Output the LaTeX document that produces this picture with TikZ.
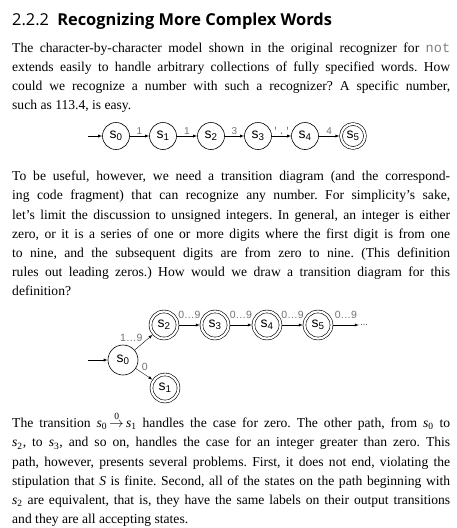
\documentclass[tikz,border=0pt]{standalone}
\usepackage{amsmath}
\usepackage{fontspec}
\setmainfont{Liberation Serif}
\setsansfont{Liberation Sans}
\setmonofont{Liberation Mono}
\newfontfamily\headfont{Open Sans}
\usetikzlibrary{positioning}

\newcommand\zs[1]{s\textsubscript{#1}}
\newcommand\ts[1]{\textit{s}\textsubscript{#1}}
\hyphenpenalty=10000
\frenchspacing

\begin{document}
\begin{tikzpicture}[>=latex,x=1pt,y=-1pt,
  zustand/.style={circle,draw,line width=0.6pt,minimum size=27pt,inner sep=0pt,
    font=\fontsize{14}{14}\sffamily},
  gross/.style={minimum size=30pt},
  akz/.style={double,double distance=2.2pt,outer sep=1.6pt},
  lbl/.style={above,inner sep=1.2pt,text=black!55,font=\fontsize{10}{10}\sffamily},
  hoch/.style={above=5pt,font=\fontsize{10.5}{10.5}\sffamily},
  absatz/.style={anchor=north west,inner sep=0pt,text width=438pt,align=justify,
    font=\fontsize{13.6}{19.2}\selectfont}]
  \useasboundingbox[fill=white] (0,0) rectangle (457,528);

  % Text
  \node[anchor=base west,inner sep=0pt,font=\fontsize{16.4}{18}\headfont] (titel) at (12,25)
    {2.2.2\enspace\textbf{Recognizing More Complex Words}};
  \node[absatz] (p1) at (12,38.56) {\strut The character-by-character model shown in the
    original recognizer for {\ttfamily\color{black!50}not}\linebreak
    extends easily to handle arbitrary collections of fully specified words. How\linebreak
    could we recognize a number with such a recognizer? A specific number,\linebreak
    such as 113.4, is easy.};
  \node[absatz] (p2) at (12,167.06) {\strut To be useful, however, we need a transition
    diagram (and the correspond-\linebreak
    ing code fragment) that can recognize any number. For simplicity’s sake,\linebreak
    let’s limit the discussion to unsigned integers. In general, an integer is either\linebreak
    zero, or it is a series of one or more digits where the first digit is from one\linebreak
    to nine, and the subsequent digits are from zero to nine. (This definition\linebreak
    rules out leading zeros.) How would we draw a transition diagram for this\linebreak
    definition?};
  \node[absatz] (p3) at (12,411.56) {\strut The transition
    \ts0\,$\overset{\textrm{0}}{\rightarrow}$\,\ts1 handles the case for zero. The other
    path, from \ts0 to\linebreak
    \ts2, to \ts3, and so on, handles the case for an integer greater than zero. This\linebreak
    path, however, presents several problems. First, it does not end, violating the\linebreak
    stipulation that \textit{S} is finite. Second, all of the states on the path beginning with\linebreak
    \ts2 are equivalent, that is, they have the same labels on their output transitions\linebreak
    and they are all accepting states.};

  % Knoten (113.4)
  \coordinate (a) at (88,136);
  \node[zustand] (a0) at (116,136) {\zs0};
  \node[zustand] (a1) at (163,136) {\zs1};
  \node[zustand] (a2) at (211,136) {\zs2};
  \node[zustand] (a3) at (258,136) {\zs3};
  \node[zustand] (a4) at (305,136) {\zs4};
  \node[zustand,akz,minimum size=24pt] (a5) at (353,136) {\zs5};

  % Pfeile (113.4)
  \draw[->] (a) -- (a0);
  \draw[->] (a0) -- (a1) node[midway,lbl] {1};
  \draw[->] (a1) -- (a2) node[midway,lbl] {1};
  \draw[->] (a2) -- (a3) node[midway,lbl] {3};
  \draw[->] (a3) -- (a4) node[midway,lbl] {\ttfamily'.'};
  \draw[->] (a4) -- (a5) node[midway,lbl] {4};

  % Knoten (Zahlen)
  \coordinate (b) at (88,360);
  \node[zustand,gross] (b0) at (123,360) {\zs0};
  \node[zustand,akz] (b1) at (165,388) {\zs1};
  \node[zustand,akz] (b2) at (164,325) {\zs2};
  \node[zustand,akz] (b3) at (215,325) {\zs3};
  \node[zustand,akz] (b4) at (267,325) {\zs4};
  \node[zustand,akz] (b5) at (318,325) {\zs5};
  \node[inner sep=1pt,font=\fontsize{8}{8}\sffamily] (bn) at (364,325) {…};

  % Pfeile (Zahlen)
  \draw[->] (b) -- (b0);
  \draw[->] (b0) -- (b2) node[midway,lbl,above left,inner sep=1pt,font=\fontsize{10.5}{10.5}\sffamily] {1…9};
  \draw[->] (b0) -- (b1) node[pos=0.3,lbl,above right,inner sep=1pt,font=\fontsize{10.5}{10.5}\sffamily] {0};
  \draw[->] (b2) -- (b3) node[midway,lbl,hoch] {0…9};
  \draw[->] (b3) -- (b4) node[midway,lbl,hoch] {0…9};
  \draw[->] (b4) -- (b5) node[midway,lbl,hoch] {0…9};
  \draw[->] (b5) -- (bn) node[midway,lbl,hoch] {0…9};
\end{tikzpicture}
\end{document}
